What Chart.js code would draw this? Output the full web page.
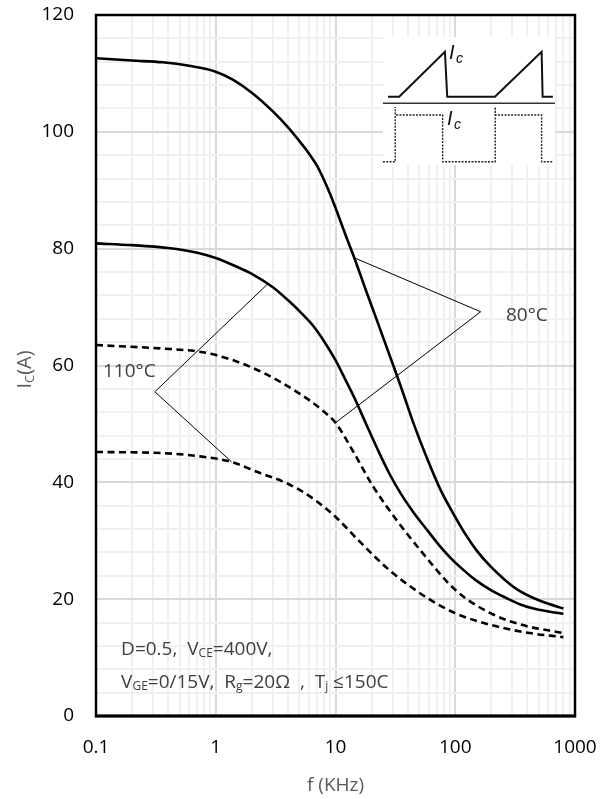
<!DOCTYPE html>
<html><head><meta charset="utf-8">
<script src="https://cdn.jsdelivr.net/npm/chart.js@4.4.0/dist/chart.umd.min.js"></script>
<style>html,body{margin:0;padding:0;background:#fff;}canvas{display:block;}</style>
</head><body>
<canvas id="c" width="611" height="799"></canvas>
<script>
// ---- data (frequency kHz, collector current A) ----
const fSolidA = [0.1,0.2,0.36,0.6,1,1.4,2,3,4,5,6,7,8,9,10,12,14.5,18,22.3,28,35,45,59.5,75,93,120,150,197,260,333,450,600,800];
const iSolidA = [112.6,112.2,111.9,111.3,110.3,108.9,106.7,103.5,100.8,98.4,96.3,94.2,91.8,89.4,87.0,82.6,78.2,72.8,67.6,62.0,56.5,50.0,43.6,38.8,35.2,31.3,28.4,25.6,23.3,21.6,20.2,19.2,18.4];
const fSolidB = [0.1,0.2,0.4,0.7,1,1.5,2,3,4,5,6.5,8,10,12,14.5,18,22.3,28,35,45,59.5,75,93,120,147,200,267,350,450,600,800];
const iSolidB = [80.9,80.6,80.1,79.3,78.4,76.9,75.7,73.4,71.2,69.3,66.8,64.2,60.9,57.7,54.3,50.0,45.8,41.6,38.1,34.8,31.6,29.0,26.9,24.8,23.3,21.5,20.2,19.1,18.4,17.9,17.5];
const fDashA = [0.1,0.36,0.71,1,1.88,3.4,5,6.2,7.8,10,14.3,20.6,32.5,51,100,197,360,800];
const iDashA = [63.5,62.9,62.4,61.8,59.9,57.3,55.2,53.9,52.3,50.2,45.0,39.3,33.5,28.4,21.6,17.6,15.6,14.2];
const fDashB = [0.1,0.36,0.77,1.35,2.2,3.97,6.2,10,15.5,28,44,59.5,100,197,418,800];
const iDashB = [45.2,45.0,44.4,43.5,41.8,39.8,37.5,34.1,30.1,25.0,21.9,20.1,17.6,15.6,14.2,13.5];
// annotation leader lines
const ann80F = [14.5,163,10];
const ann80I = [78.4,69.2,50.2];
const ann110F = [2.76,0.31,1.355];
const ann110I = [74.1,55.5,43.5];
// label anchors (data coords)
const label80 = {text:'80°C', f:265, i:68.6};
const label110 = {text:'110°C', f:0.1144, i:58.9};
const condAnchorF = 0.162;
const condLine1I = 10.44;
const condLine2I = 4.79;
// ticks
const xDecades = [0.1,1,10,100,1000];
const xTickLabels = ['0.1','1','10','100','1000'];
const yTickValues = [0,20,40,60,80,100,120];

function pts(fs, is){ return fs.map((f,k)=>({x:f,y:is[k]})); }

const xTicksAll = [];
for (let e=-1;e<=2;e++){ for(let m=1;m<=9;m++){ xTicksAll.push(Number((m*Math.pow(10,e)).toPrecision(3))); } }
xTicksAll.push(1000);
const yTicksAll = [];
for (let v=0; v<=120; v+=4) yTicksAll.push(v);

function isDecade(v){ const l=Math.log10(v); return Math.abs(l-Math.round(l))<1e-9; }

const FONT = "'Open Sans', 'Noto Sans', sans-serif";

function drawRuns(ctx, x, y, runs, size, subSize){
  let cx = x;
  for (const r of runs){
    const sub = r[1];
    ctx.font = (sub?subSize:size)+'px '+FONT;
    ctx.fillText(r[0], cx, y + (sub?2:0));
    cx += ctx.measureText(r[0]).width;
  }
}

const decor = {
  id:'decor',
  beforeDatasetsDraw(chart){
    const ctx = chart.ctx, ca = chart.chartArea;
    // inset waveform box
    const bx = ca.left + 0.599*ca.width, by = ca.top + 0.0314*ca.height;
    ctx.save();
    ctx.fillStyle = '#fff';
    ctx.fillRect(bx, by, 172, 128);
    ctx.translate(bx, by);
    ctx.strokeStyle = '#111';
    ctx.lineWidth = 2;
    ctx.lineJoin = 'miter';
    ctx.beginPath();
    const top = [[5,59.7],[16.3,59.7],[62,14.7],[64.3,59.7],[112,59.7],[158.7,14.7],[159.7,59.7],[170,59.7]];
    top.forEach((p,k)=> k?ctx.lineTo(p[0],p[1]):ctx.moveTo(p[0],p[1]));
    ctx.stroke();
    ctx.strokeStyle = '#333';
    ctx.lineWidth = 1.6;
    ctx.beginPath(); ctx.moveTo(0,66.3); ctx.lineTo(172,66.3); ctx.stroke();
    ctx.setLineDash([2,1.3]);
    ctx.lineWidth = 1.4;
    ctx.strokeStyle = '#222';
    ctx.beginPath();
    const bot = [[0,124.7],[12.3,124.7],[12.3,70],[12.3,78],[59.7,78],[59.7,124.7],[112.3,124.7],[112.3,70],[112.3,78],[158.7,78],[158.7,124.7],[170,124.7]];
    bot.forEach((p,k)=> k?ctx.lineTo(p[0],p[1]):ctx.moveTo(p[0],p[1]));
    ctx.stroke();
    ctx.setLineDash([]);
    ctx.fillStyle = '#111';
    ctx.textBaseline = 'alphabetic';
    ctx.font = 'italic 20px "Liberation Sans", Arial, sans-serif';
    ctx.fillText('I', 66, 22);
    ctx.font = 'italic 14px "Liberation Sans", Arial, sans-serif';
    ctx.fillText('c', 73, 26);
    ctx.font = 'italic 20px "Liberation Sans", Arial, sans-serif';
    ctx.fillText('I', 64, 88);
    ctx.font = 'italic 14px "Liberation Sans", Arial, sans-serif';
    ctx.fillText('c', 71, 92);
    ctx.restore();
  },
  afterDraw(chart){
    const ctx = chart.ctx, ca = chart.chartArea;
    const xs = chart.scales.x, ys = chart.scales.y;
    ctx.save();
    // frame
    ctx.strokeStyle = '#000';
    ctx.lineWidth = 2.5;
    ctx.strokeRect(ca.left, ca.top, ca.right-ca.left, ca.bottom-ca.top);
    ctx.lineWidth = 3;
    ctx.beginPath(); ctx.moveTo(ca.left-1, ca.bottom); ctx.lineTo(ca.right+1, ca.bottom); ctx.stroke();
    // temperature labels
    ctx.fillStyle = '#404040';
    ctx.font = '19px '+FONT;
    ctx.textBaseline = 'middle';
    ctx.textAlign = 'left';
    ctx.fillText(label80.text, xs.getPixelForValue(label80.f), ys.getPixelForValue(label80.i));
    ctx.fillText(label110.text, xs.getPixelForValue(label110.f), ys.getPixelForValue(label110.i));
    // condition text
    ctx.textBaseline = 'alphabetic';
    const cx = xs.getPixelForValue(condAnchorF);
    drawRuns(ctx, cx, ys.getPixelForValue(condLine1I), [['D=0.5,  V',0],['CE',1],['=400V,',0]], 19, 12);
    drawRuns(ctx, cx, ys.getPixelForValue(condLine2I), [['V',0],['GE',1],['=0/15V,  R',0],['g',1],['=20Ω  ,  T',0],['j',1],[' ≤150C',0]], 19, 12);
    // y title  I_C(A)
    ctx.translate(31, (ca.top+ca.bottom)/2 + 4);
    ctx.rotate(-Math.PI/2);
    ctx.fillStyle = '#595959';
    ctx.font = '20px '+FONT;
    const w1 = ctx.measureText('I').width;
    ctx.font = '13px '+FONT;
    const w2 = ctx.measureText('C').width;
    ctx.font = '20px '+FONT;
    const w3 = ctx.measureText('(A)').width;
    const tot = w1+w2+w3;
    ctx.textAlign = 'left';
    ctx.fillText('I', -tot/2, 0);
    ctx.font = '13px '+FONT;
    ctx.fillText('C', -tot/2+w1, 3);
    ctx.font = '20px '+FONT;
    ctx.fillText('(A)', -tot/2+w1+w2, 0);
    ctx.restore();
  }
};

const solid = (data)=>({data, borderColor:'#000', borderWidth:2.6, pointRadius:0, cubicInterpolationMode:'monotone', fill:false});
const dashed = (data)=>({data, borderColor:'#000', borderWidth:2.6, borderDash:[7,4.5], pointRadius:0, cubicInterpolationMode:'monotone', fill:false});
const leader = (data)=>({data, borderColor:'#000', borderWidth:1, pointRadius:0, tension:0, fill:false});

new Chart(document.getElementById('c'), {
  type:'line',
  data:{ datasets:[
    solid(pts(fSolidA,iSolidA)),
    solid(pts(fSolidB,iSolidB)),
    dashed(pts(fDashA,iDashA)),
    dashed(pts(fDashB,iDashB)),
    leader(pts(ann80F,ann80I)),
    leader(pts(ann110F,ann110I))
  ]},
  options:{
    responsive:false, animation:false, devicePixelRatio:1,
    layout:{padding:{left:0,right:36,top:15,bottom:0}},
    plugins:{legend:{display:false}, tooltip:{enabled:false}},
    scales:{
      x:{ type:'logarithmic', min:0.1, max:1000,
        afterBuildTicks(s){ s.ticks = xTicksAll.map(v=>({value:v})); },
        afterFit(s){ s.height = 83; s.paddingLeft = 0; s.paddingRight = 0; },
        grid:{ drawTicks:false, lineWidth:2, color:(c)=> (c.tick && isDecade(c.tick.value)) ? '#d9d9d9' : '#f0f0f0' },
        border:{display:false},
        ticks:{ autoSkip:false, maxRotation:0, padding:20, color:'#000', font:{family:FONT, size:19},
          callback:(v)=>{ const k = xDecades.findIndex(d=>Math.abs(d-v)<1e-9); return k>=0 ? xTickLabels[k] : ''; } },
        title:{ display:true, text:'f (KHz)', color:'#595959', font:{family:FONT,size:19}, padding:{top:0,bottom:2} }
      },
      y:{ type:'linear', min:0, max:120,
        afterBuildTicks(s){ s.ticks = yTicksAll.map(v=>({value:v})); },
        afterFit(s){ s.width = 96; s.paddingTop = 0; s.paddingBottom = 0; },
        grid:{ drawTicks:false, lineWidth:2, color:(c)=> (c.tick && c.tick.value%20===0) ? '#d9d9d9' : '#f0f0f0' },
        border:{display:false},
        ticks:{ autoSkip:false, padding:22, color:'#000', font:{family:FONT, size:19},
          callback:(v)=> yTickValues.includes(v) ? String(v) : '' }
      }
    }
  },
  plugins:[decor]
});
</script></body></html>
